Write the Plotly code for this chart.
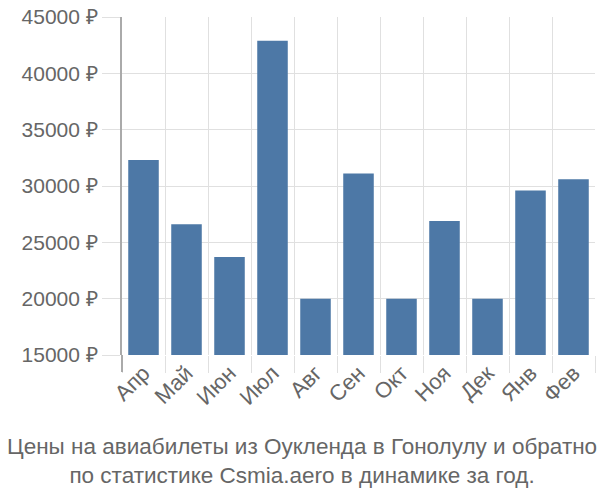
import plotly.graph_objects as go

months = ["Апр", "Май", "Июн", "Июл", "Авг", "Сен", "Окт", "Ноя", "Дек", "Янв", "Фев"]
prices = [32300, 26600, 23700, 42900, 20000, 31100, 20000, 26900, 20000, 29600, 30600]
y_ticks = [15000, 20000, 25000, 30000, 35000, 40000, 45000]
y_labels = [f"{v} ₽" for v in y_ticks]
title_lines = ["Цены на авиабилеты из Оукленда в Гонолулу и обратно",
               "по статистике Csmia.aero в динамике за год."]

fig = go.Figure(go.Bar(x=months, y=prices, marker=dict(color="#4d78a6", line=dict(width=0))))

font = "Liberation Sans, Arial, sans-serif"
fig.update_layout(
    width=600, height=500,
    margin=dict(l=122, r=5, t=14, b=145),
    plot_bgcolor="white", paper_bgcolor="white",
    bargap=0.29,
    showlegend=False,
    font=dict(family=font, color="#666666"),
    xaxis=dict(
        tickson="boundaries", showgrid=True, gridcolor="#e0e0e0", gridwidth=1,
        ticks="outside", ticklen=17, tickcolor="#e0e0e0",
        tickangle=-45, tickfont=dict(size=22, color="#666666"),
        showline=False, zeroline=False,
    ),
    yaxis=dict(
        range=[15000, 45000], tickvals=y_ticks, ticktext=y_labels,
        showgrid=True, gridcolor="#e0e0e0", gridwidth=1,
        ticks="outside", ticklen=18, tickcolor="#e0e0e0",
        tickfont=dict(size=21, color="#666666"),
        showline=True, linecolor="#aaaaaa", linewidth=2,
        zeroline=False,
    ),
    shapes=[dict(type="line", xref="paper", yref="paper", x0=0, x1=0, y0=0, y1=-0.05,
                 line=dict(color="#aaaaaa", width=2))],
    annotations=[dict(
        text="<br>".join(title_lines), x=0.5, xref="paper", xanchor="center",
        y=0, yref="paper", yanchor="top", yshift=-77, xshift=-57,
        showarrow=False, font=dict(size=22.5, color="#666666", family=font),
        align="center",
    )],
)

fig.write_html("out.html")
